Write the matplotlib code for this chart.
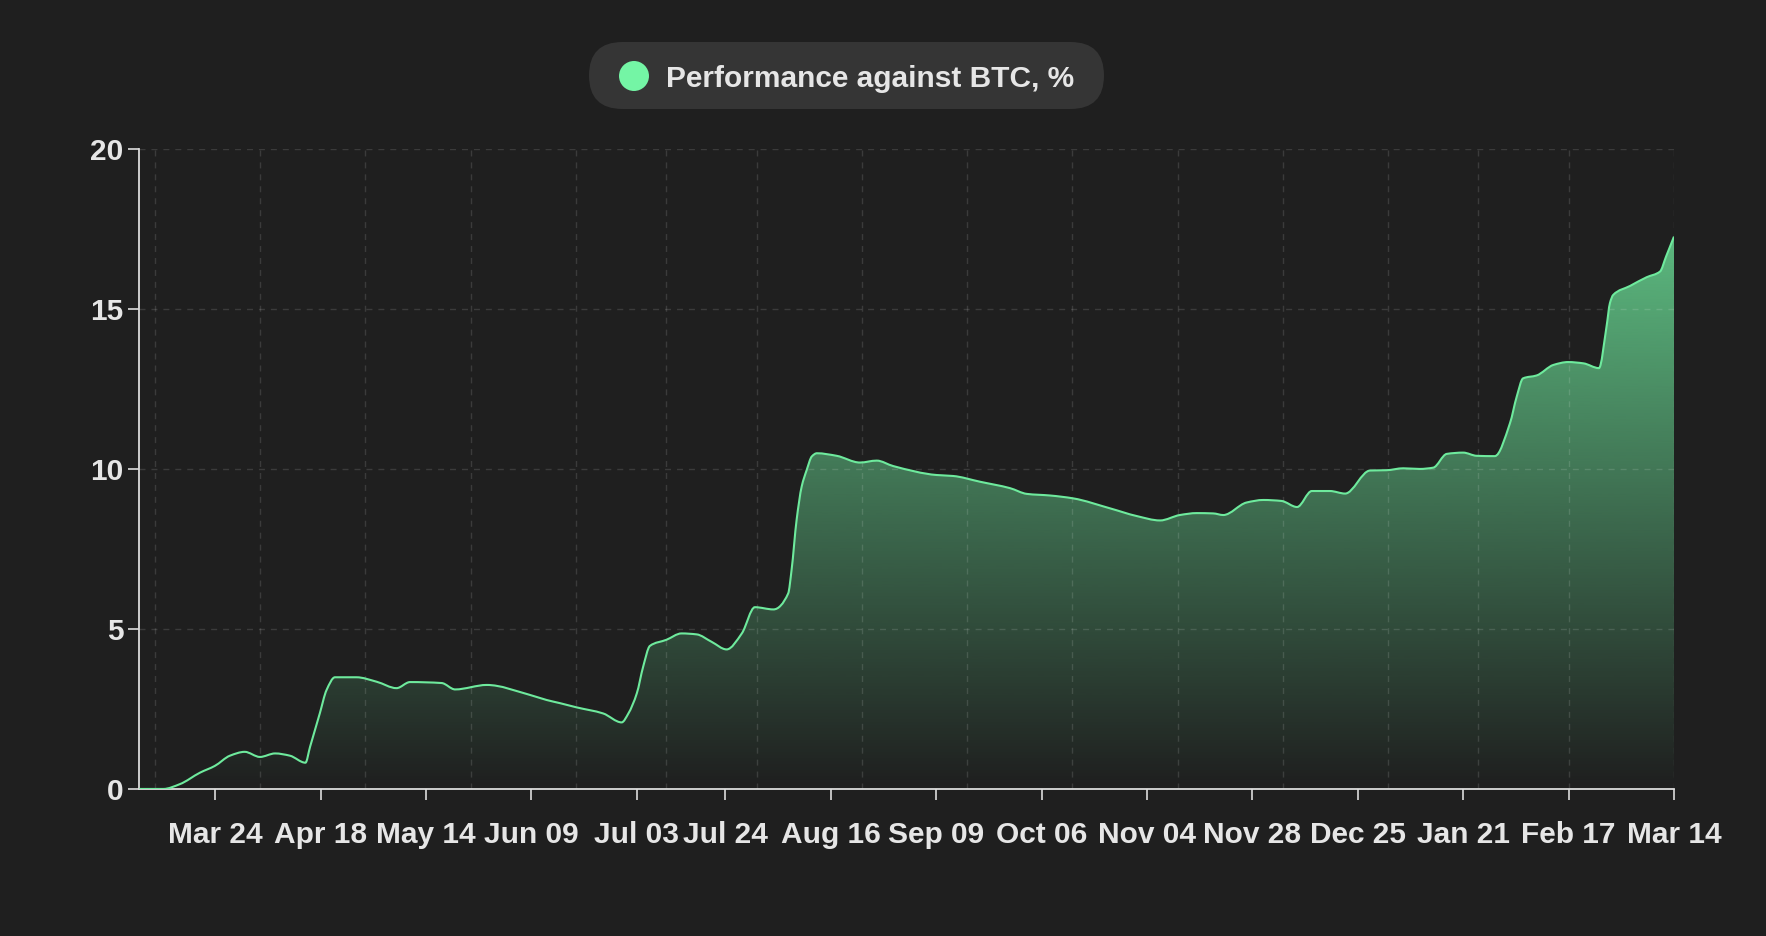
import numpy as np
import matplotlib
matplotlib.use("Agg")
from matplotlib import pyplot as plt
from matplotlib.patches import FancyBboxPatch, Circle, PathPatch
from matplotlib.path import Path

# point index along the x axis (0..364) and performance values, %
perf_index = [
    0, 5.7, 9.6, 14.4, 17.9, 21.5, 25, 28.6, 32.2, 35.7, 39.4, 40.5, 42.8,
    44.4, 46.4, 51.5, 56.3, 61, 64.2, 71.7, 74.9, 82.4, 92.6, 96.6, 99.8,
    103.7, 110, 114.4, 116, 118, 119.5, 121.1, 125, 128.6, 132.2, 135.7,
    139.3, 142.9, 146, 150.4, 153.9, 154.7, 155.9, 157.1, 158.3, 159.5,
    160.7, 165.4, 170.9, 174.9, 178.8, 189.1, 193, 199.4, 206.5, 210.5, 216,
    221.5, 230.2, 236.5, 242.1, 246.8, 250.8, 254.7, 257.1, 262.6, 266.6,
    270.9, 274.6, 278.1, 282.4, 286, 291.9, 295.8, 299.8, 303.7, 306.9,
    310.1, 314, 317.2, 321.5, 325.1, 326.7, 328.2, 331.4, 335.4, 338.9,
    342.5, 346.2, 348, 348.8, 349.6, 353.6, 357.5, 360.7, 362.1, 364,
]
perf_value = [
    0.0, 0.0, 0.15, 0.51, 0.72, 1.04, 1.16, 1.0, 1.11, 1.04, 0.82, 1.32, 2.36,
    3.09, 3.49, 3.49, 3.35, 3.15, 3.34, 3.31, 3.11, 3.25, 2.94, 2.78, 2.68,
    2.55, 2.36, 2.08, 2.36, 2.99, 3.82, 4.47, 4.66, 4.86, 4.83, 4.6,
    4.36, 4.86, 5.68, 5.61, 6.11, 6.84, 8.41, 9.45, 9.97, 10.39,
    10.49, 10.41, 10.2, 10.26, 10.09, 9.81, 9.78, 9.6, 9.4, 9.22, 9.17,
    9.08, 8.77, 8.53, 8.39, 8.56, 8.62, 8.61, 8.56, 8.95, 9.03,
    9.0, 8.81, 9.31, 9.31, 9.23, 9.95, 9.96, 10.02, 10.0, 10.04,
    10.47, 10.51, 10.41, 10.4, 11.43, 12.26, 12.83, 12.92, 13.25, 13.34,
    13.3, 13.15, 14.45, 15.18, 15.44, 15.72, 15.99, 16.17, 16.63, 17.26,
]

tick_pos = [18, 43, 68, 93, 118, 139, 164, 189, 214, 239, 264, 289, 314, 339, 364]
tick_labels = [
    "Mar 24", "Apr 18", "May 14", "Jun 09", "Jul 03", "Jul 24", "Aug 16",
    "Sep 09", "Oct 06", "Nov 04", "Nov 28", "Dec 25", "Jan 21", "Feb 17", "Mar 14",
]
grid_x = [3.6, 28.6, 53.6, 78.7, 103.6, 124.9, 146.4, 171.3, 196.3, 221.3,
          246.4, 271.3, 296.2, 317.6, 339.1, 364]
y_ticks = [0, 5, 10, 15, 20]
legend_label = "Performance against BTC, %"

BG = "#1f1f1f"
MINT = "#74f5a5"
LINE = "#6eea9d"
TEXT = "#e6e6e6"
AXIS = "#dcdcdc"


def monotone_path_vertices(x, y):
    """Bezier vertices for a monotone cubic curve through the points
    (same idea as d3 curveMonotoneX), used only for drawing."""
    h = np.diff(x)
    d = np.diff(y) / h
    m = np.zeros_like(y)
    m[0], m[-1] = d[0], d[-1]
    for i in range(1, len(x) - 1):
        if d[i - 1] * d[i] <= 0:
            m[i] = 0.0
        else:
            w1 = 2 * h[i] + h[i - 1]
            w2 = h[i] + 2 * h[i - 1]
            m[i] = (w1 + w2) / (w1 / d[i - 1] + w2 / d[i])
    verts = [(x[0], y[0])]
    codes = [Path.MOVETO]
    for i in range(len(x) - 1):
        dx = h[i] / 3.0
        verts += [(x[i] + dx, y[i] + m[i] * dx),
                  (x[i + 1] - dx, y[i + 1] - m[i + 1] * dx),
                  (x[i + 1], y[i + 1])]
        codes += [Path.CURVE4] * 3
    return verts, codes


plt.rcParams["font.family"] = ["Liberation Sans", "DejaVu Sans"]
plt.rcParams["font.weight"] = "bold"

fig = plt.figure(figsize=(17.66, 9.36), dpi=100, facecolor=BG)
ax = fig.add_axes([0.0789, 0.1571, 0.8690, 0.6838])
ax.set_facecolor(BG)

x = np.array(perf_index, dtype=float)
y = np.array(perf_value, dtype=float)
ax.set_xlim(0, 364)
ax.set_ylim(0, 20)

verts, codes = monotone_path_vertices(x, y)
line_path = Path(verts, codes)
area_path = Path([(x[0], 0)] + verts + [(x[-1], 0), (x[0], 0)],
                 [Path.MOVETO, Path.LINETO] + codes[1:] + [Path.LINETO, Path.CLOSEPOLY])

# gradient fill under the curve, clipped to the area
ymax = y.max()
grad = np.zeros((256, 1, 4))
grad[:, 0, :3] = matplotlib.colors.to_rgb(MINT)
grad[:, 0, 3] = np.linspace(0, 0.72, 256)
im = ax.imshow(grad, extent=[0, 364, 0, ymax], origin="lower",
               aspect="auto", zorder=1, interpolation="bicubic")
im.set_clip_path(area_path, transform=ax.transData)

# dashed grid (vertical positions differ from the tick positions)
grid_kw = dict(colors="white", alpha=0.13, linewidth=1.0,
               linestyles=(0, (4.3, 4.3)), zorder=2)
ax.vlines(grid_x, 0, 20, **grid_kw)
ax.hlines(y_ticks[1:], 0, 364, **grid_kw)

ax.add_patch(PathPatch(line_path, facecolor="none", edgecolor=LINE,
                       linewidth=1.5, zorder=3, joinstyle="round"))

for side in ["top", "right"]:
    ax.spines[side].set_visible(False)
for side in ["left", "bottom"]:
    ax.spines[side].set_color(AXIS)
    ax.spines[side].set_linewidth(1.3)

ax.set_xticks(tick_pos)
ax.set_xticklabels(tick_labels)
ax.set_yticks(y_ticks)
ax.tick_params(axis="both", length=8, width=1.2, color=AXIS,
               labelcolor=TEXT, labelsize=21.5)
ax.tick_params(axis="x", pad=15)
ax.tick_params(axis="y", pad=3.5)
for lbl in ax.get_xticklabels() + ax.get_yticklabels():
    lbl.set_fontweight("bold")

# pill shaped legend on top
pill = FancyBboxPatch((5.89, 8.27), 5.15, 0.67,
                      boxstyle="round,pad=0,rounding_size=0.335",
                      transform=fig.dpi_scale_trans, facecolor="#353535",
                      edgecolor="none")
fig.add_artist(pill)
dot = Circle((6.34, 8.60), 0.15, transform=fig.dpi_scale_trans,
             facecolor=MINT, edgecolor="none")
fig.add_artist(dot)
fig.text(6.66, 8.493, legend_label, transform=fig.dpi_scale_trans,
         fontsize=21.5, fontweight="bold", color=TEXT, va="baseline", ha="left")

fig.savefig("out.png", dpi=100, facecolor=BG)
